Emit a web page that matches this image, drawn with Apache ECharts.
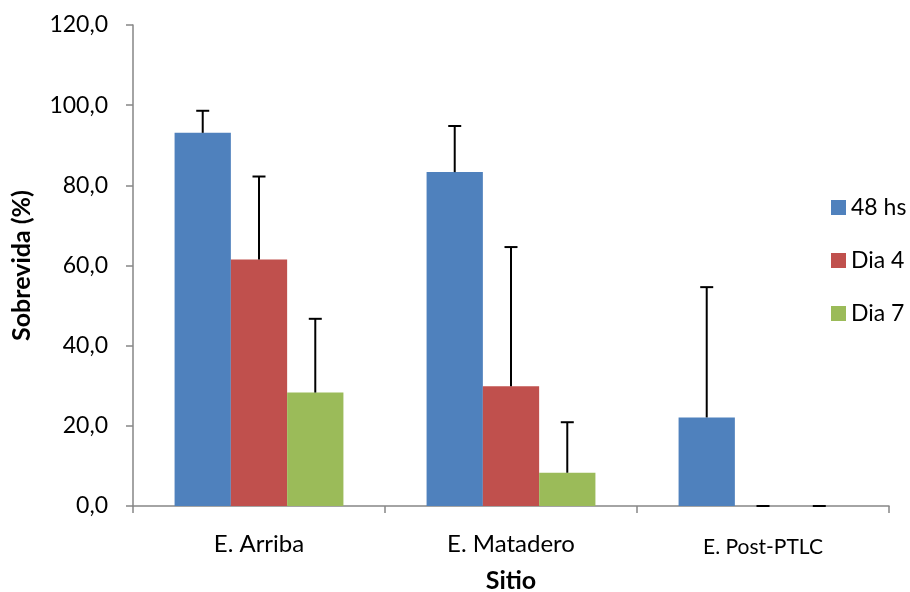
<!DOCTYPE html>
<html>
<head>
<meta charset="utf-8">
<script src="https://cdn.jsdelivr.net/npm/echarts@6/dist/echarts.min.js"></script>
<style>
html,body{margin:0;padding:0;background:#fff;}
#chart{width:910px;height:592px;}
</style>
</head>
<body>
<div id="chart"></div>
<script>
var categories = ['E. Arriba', 'E. Matadero', 'E. Post-PTLC'];
var seriesNames = ['48 hs', 'Dia 4', 'Dia 7'];
var values48 = [93.1, 83.3, 22.1];
var valuesDia4 = [61.5, 29.9, 0];
var valuesDia7 = [28.3, 8.3, 0];
var err48 = [5.5, 11.5, 32.5];
var errDia4 = [20.7, 34.7, 0];
var errDia7 = [18.4, 12.6, 0];
var yTicks = [0, 20, 40, 60, 80, 100, 120];

var colors = ['#4F81BD', '#C0504D', '#9BBB59'];
var allValues = [values48, valuesDia4, valuesDia7];
var allErr = [err48, errDia4, errDia7];
var catGap = 0.33;

var chart = echarts.init(document.getElementById('chart'), null, {renderer: 'canvas'});
var font = 'Lato, "Open Sans", sans-serif';

var series = [];
seriesNames.forEach(function (name, si) {
  series.push({
    name: name,
    type: 'bar',
    data: allValues[si],
    barGap: '0%',
    barCategoryGap: '33%',
    itemStyle: {color: colors[si]},
    z: 2
  });
});
seriesNames.forEach(function (name, si) {
  var data = allValues[si].map(function (v, i) { return [i, v, v + allErr[si][i]]; });
  series.push({
    type: 'custom',
    name: name + ' err',
    z: 5,
    renderItem: function (params, api) {
      var ci = api.value(0);
      var base = api.coord([ci, api.value(1)]);
      var top = api.coord([ci, api.value(2)]);
      var band = api.size([1, 0])[0];
      var bw = band * (1 - catGap) / 3;
      var x = base[0] + (si - 1) * bw;
      var half = 6.5;
      var st = {stroke: '#000', lineWidth: 2};
      return {
        type: 'group',
        children: [
          {type: 'line', shape: {x1: x, y1: base[1], x2: x, y2: top[1]}, style: st},
          {type: 'line', shape: {x1: x - half, y1: top[1], x2: x + half, y2: top[1]}, style: st}
        ]
      };
    },
    data: data,
    tooltip: {show: false}
  });
});

chart.setOption({
  animation: false,
  backgroundColor: '#fff',
  grid: {left: 133, right: 21, top: 25, bottom: 86, containLabel: false, outerBoundsMode: 'none'},
  legend: {
    orient: 'vertical',
    left: 831,
    top: 196,
    padding: 0,
    data: seriesNames,
    itemWidth: 15,
    itemHeight: 15,
    itemGap: 30,
    icon: 'rect',
    textStyle: {fontFamily: font, fontSize: 23, color: '#000', lineHeight: 23}
  },
  xAxis: {
    type: 'category',
    data: categories,
    name: 'Sitio',
    nameLocation: 'middle',
    nameGap: 62,
    nameTextStyle: {fontFamily: font, fontSize: 25, fontWeight: 'bold', color: '#000'},
    axisLine: {lineStyle: {color: '#868686', width: 1.5}},
    axisTick: {show: true, alignWithLabel: false, length: 7, lineStyle: {color: '#868686', width: 1.5}},
    axisLabel: {
      fontFamily: font, fontSize: 24, color: '#000', margin: 26,
      formatter: function (v, i) { return i === 2 ? '{s|' + v + '}' : v; },
      rich: {s: {fontFamily: font, fontSize: 21, color: '#000', padding: [5, 0, 0, 0]}}
    }
  },
  yAxis: {
    type: 'value',
    min: 0,
    max: 120,
    interval: 20,
    name: 'Sobrevida (%)',
    nameLocation: 'middle',
    nameGap: 99,
    nameRotate: 90,
    nameTextStyle: {fontFamily: font, fontSize: 25, fontWeight: 'bold', color: '#000'},
    axisLine: {show: true, lineStyle: {color: '#868686', width: 1.5}},
    axisTick: {show: true, length: 7, lineStyle: {color: '#868686', width: 1.5}},
    splitLine: {show: false},
    axisLabel: {
      fontFamily: font, fontSize: 23, color: '#000', margin: 25,
      formatter: function (v) { return yTicks.indexOf(v) >= 0 ? v.toFixed(1).replace('.', ',') : ''; }
    }
  },
  series: series
});
</script>
</body>
</html>
